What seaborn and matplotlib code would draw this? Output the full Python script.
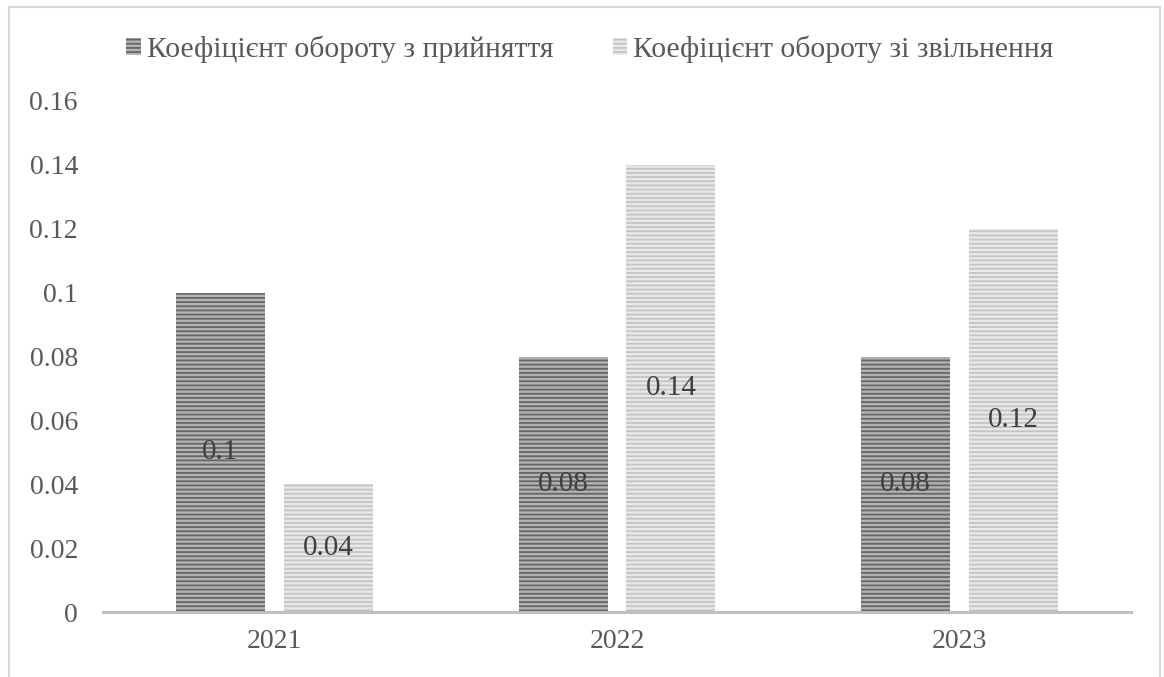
import matplotlib
matplotlib.use("Agg")
import matplotlib.pyplot as plt
from matplotlib.patches import Rectangle, Patch
import seaborn as sns
import pandas as pd

years = ["2021", "2022", "2023"]
series_names = ["Коефіцієнт обороту з прийняття", "Коефіцієнт обороту зі звільнення"]
hire_rate = [0.10, 0.08, 0.08]
leave_rate = [0.04, 0.14, 0.12]
y_ticks = [0, 0.02, 0.04, 0.06, 0.08, 0.10, 0.12, 0.14, 0.16]
y_tick_labels = ["0", "0.02", "0.04", "0.06", "0.08", "0.1", "0.12", "0.14", "0.16"]

sns.set_theme(style="white")
plt.rcParams["font.family"] = ["Liberation Serif", "DejaVu Serif"]
plt.rcParams["hatch.linewidth"] = 1.3

text_col = "#595959"
face_cols = ["#b3b3b3", "#e8e8e8"]
hatch_cols = ["#666666", "#c4c4c4"]

df = pd.DataFrame({
    "year": years * 2,
    "value": hire_rate + leave_rate,
    "series": [series_names[0]] * 3 + [series_names[1]] * 3,
})

W, H = 1164, 677
fig = plt.figure(figsize=(W / 100, H / 100), dpi=100)
ax = fig.add_axes([103 / W, (H - 612) / H, (1131 - 103) / W, (612 - 101) / H])

sns.barplot(data=df, x="year", y="value", hue="series", order=years,
            hue_order=series_names, width=0.63, gap=0.175,
            palette=face_cols, ax=ax, legend=False, errorbar=None,
            saturation=1)

for container, fc, hc in zip(ax.containers, face_cols, hatch_cols):
    for bar in container:
        bar.set_facecolor(fc)
        bar.set_edgecolor(hc)
        bar.set_hatch("----")
        bar.set_linewidth(0)
    ax.bar_label(container, labels=[f"{v:g}" for v in container.datavalues],
                 label_type="center", fontsize=21, color="#404040")

ax.set_ylim(0, 0.16)
ax.set_xlim(-0.5, 2.5)
ax.set_yticks(y_ticks)
ax.set_yticklabels(y_tick_labels)
ax.set_xlabel("")
ax.set_ylabel("")
ax.tick_params(axis="both", length=0, labelsize=20, colors=text_col)
ax.tick_params(axis="y", pad=18)
ax.tick_params(axis="x", pad=12)
for side in ["top", "left", "right"]:
    ax.spines[side].set_visible(False)
ax.spines["bottom"].set_color("#bfbfbf")
ax.spines["bottom"].set_linewidth(2.2)

handles = [Patch(facecolor=fc, edgecolor=hc, hatch="----", linewidth=0)
           for fc, hc in zip(face_cols, hatch_cols)]
fig.legend(handles, series_names, loc="center", bbox_to_anchor=(590 / W, 1 - 49 / H),
           ncol=2, frameon=False, fontsize=21.3, labelcolor=text_col,
           handlelength=0.5, handleheight=0.5, handletextpad=0.2, columnspacing=2.0)

fig.patches.append(Rectangle((9 / W, -0.05), (1160 - 9) / W, 1.05 - 7 / H,
                             transform=fig.transFigure, fill=False,
                             edgecolor="#d9d9d9", linewidth=1.5))

fig.savefig("out.png", dpi=100)
